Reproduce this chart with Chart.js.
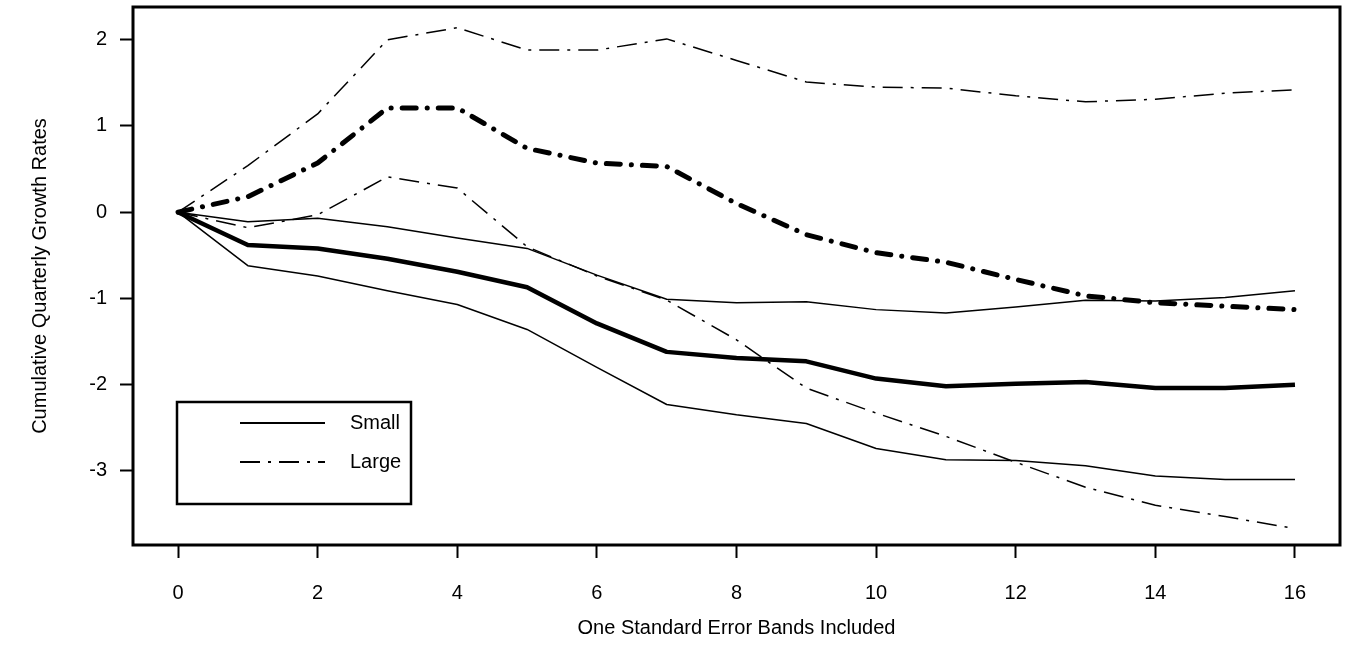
<!DOCTYPE html>
<html>
<head>
<meta charset="utf-8">
<script src="https://cdn.jsdelivr.net/npm/chart.js@4/dist/chart.umd.min.js"></script>
<style>
  body { margin: 0; background: #fff; }
  #wrap { width: 1351px; height: 645px; position: relative; }
</style>
</head>
<body>
<div id="wrap"><canvas id="growthChart"></canvas></div>
<script>
// bands included (x) and tick labels
const bands = [0, 1, 2, 3, 4, 5, 6, 7, 8, 9, 10, 11, 12, 13, 14, 15, 16];
const xTicks = [0, 2, 4, 6, 8, 10, 12, 14, 16];
const yTicks = [-3, -2, -1, 0, 1, 2];

// cumulative quarterly growth rates
const smallMid   = [0, -0.38, -0.42, -0.54, -0.69, -0.87, -1.29, -1.62, -1.69, -1.73, -1.93, -2.02, -1.99, -1.97, -2.04, -2.04, -2.00];
const smallUpper = [0, -0.11, -0.07, -0.17, -0.30, -0.42, -0.73, -1.01, -1.05, -1.04, -1.13, -1.17, -1.10, -1.02, -1.03, -0.99, -0.91];
const smallLower = [0, -0.62, -0.74, -0.91, -1.07, -1.36, -1.80, -2.23, -2.35, -2.45, -2.74, -2.87, -2.88, -2.94, -3.06, -3.10, -3.10];
const largeMid   = [0, 0.18, 0.57, 1.21, 1.21, 0.74, 0.57, 0.53, 0.10, -0.26, -0.47, -0.58, -0.78, -0.97, -1.05, -1.09, -1.13];
const largeUpper = [0, 0.54, 1.14, 2.00, 2.14, 1.88, 1.88, 2.01, 1.76, 1.51, 1.45, 1.44, 1.35, 1.28, 1.31, 1.38, 1.42];
const largeLower = [0, -0.18, -0.03, 0.41, 0.28, -0.40, -0.74, -1.02, -1.48, -2.04, -2.33, -2.60, -2.90, -3.19, -3.40, -3.53, -3.67];

const legendNames = ['Small', 'Large'];

const FONT = '"Liberation Sans", Arial, Helvetica, sans-serif';
const FONT_SIZE = 20;
const thinDashDot = [20, 8, 3, 8];
const thickDashDot = [14, 11, 0.1, 11];

function pts(values) {
    return bands.map((b, i) => ({ x: b, y: values[i] }));
}

function line(values, width, dash, cap) {
    return {
        data: pts(values),
        borderColor: '#000',
        borderWidth: width,
        borderDash: dash || [],
        borderCapStyle: cap || 'butt',
        borderJoinStyle: 'round',
        pointRadius: 0,
        tension: 0,
        fill: false
    };
}

// frame round the plot area
const framePlugin = {
    id: 'frame',
    afterDraw(chart) {
        const { ctx, chartArea: a } = chart;
        ctx.save();
        ctx.strokeStyle = '#000';
        ctx.lineWidth = 3;
        ctx.strokeRect(a.left, a.top, a.right - a.left, a.bottom - a.top);
        ctx.restore();
    }
};

// boxed legend in the lower left of the plot
const boxLegend = {
    id: 'boxLegend',
    afterDraw(chart) {
        const { ctx, chartArea: a } = chart;
        const x0 = a.left + 44, y0 = a.top + 395, w = 234, h = 102;
        ctx.save();
        ctx.fillStyle = '#fff';
        ctx.fillRect(x0, y0, w, h);
        ctx.strokeStyle = '#000';
        ctx.lineWidth = 2.5;
        ctx.strokeRect(x0, y0, w, h);

        const rows = [
            { name: legendNames[0], dash: [], y: y0 + 21 },
            { name: legendNames[1], dash: thinDashDot, y: y0 + 60 }
        ];
        ctx.font = FONT_SIZE + 'px ' + FONT;
        ctx.fillStyle = '#000';
        ctx.textBaseline = 'middle';
        for (const r of rows) {
            ctx.beginPath();
            ctx.lineWidth = 2;
            ctx.setLineDash(r.dash);
            ctx.moveTo(x0 + 63, r.y);
            ctx.lineTo(x0 + 148, r.y);
            ctx.stroke();
            ctx.setLineDash([]);
            ctx.fillText(r.name, x0 + 173, r.y);
        }
        ctx.restore();
    }
};

new Chart(document.getElementById('growthChart').getContext('2d'), {
    type: 'line',
    data: {
        datasets: [
            line(smallUpper, 1.5),
            line(smallLower, 1.5),
            line(smallMid, 4.5),
            line(largeUpper, 1.5, thinDashDot),
            line(largeLower, 1.5, thinDashDot),
            line(largeMid, 5, thickDashDot, 'round')
        ]
    },
    options: {
        responsive: true,
        maintainAspectRatio: false,
        animation: false,
        layout: { padding: { left: 0, right: 11, top: 7, bottom: 0 } },
        plugins: {
            legend: { display: false },
            tooltip: { enabled: false }
        },
        scales: {
            x: {
                type: 'linear',
                min: -0.645,
                max: 16.645,
                afterBuildTicks(scale) { scale.ticks = xTicks.map(v => ({ value: v })); },
                afterFit(scale) {
                    scale.height = 100;
                    scale.paddingLeft = 0;
                    scale.paddingRight = 0;
                },
                border: { display: false },
                grid: { drawOnChartArea: false, drawTicks: true, tickLength: 13, tickWidth: 2, tickColor: '#000' },
                ticks: { color: '#000', padding: 23, font: { family: FONT, size: FONT_SIZE } },
                title: {
                    display: true,
                    text: 'One Standard Error Bands Included',
                    color: '#000',
                    font: { family: FONT, size: FONT_SIZE },
                    padding: { top: 0, bottom: 5 }
                }
            },
            y: {
                type: 'linear',
                min: -3.86,
                max: 2.38,
                afterBuildTicks(scale) { scale.ticks = yTicks.map(v => ({ value: v })); },
                afterFit(scale) {
                    scale.width = 133;
                    scale.paddingTop = 0;
                    scale.paddingBottom = 0;
                },
                border: { display: false },
                grid: { drawOnChartArea: false, drawTicks: true, tickLength: 13, tickWidth: 2, tickColor: '#000' },
                ticks: { color: '#000', padding: 13, font: { family: FONT, size: FONT_SIZE } },
                title: {
                    display: true,
                    text: 'Cumulative Quarterly Growth Rates',
                    color: '#000',
                    font: { family: FONT, size: FONT_SIZE },
                    padding: { top: 28, bottom: 0 }
                }
            }
        }
    },
    plugins: [framePlugin, boxLegend]
});
</script>
</body>
</html>
